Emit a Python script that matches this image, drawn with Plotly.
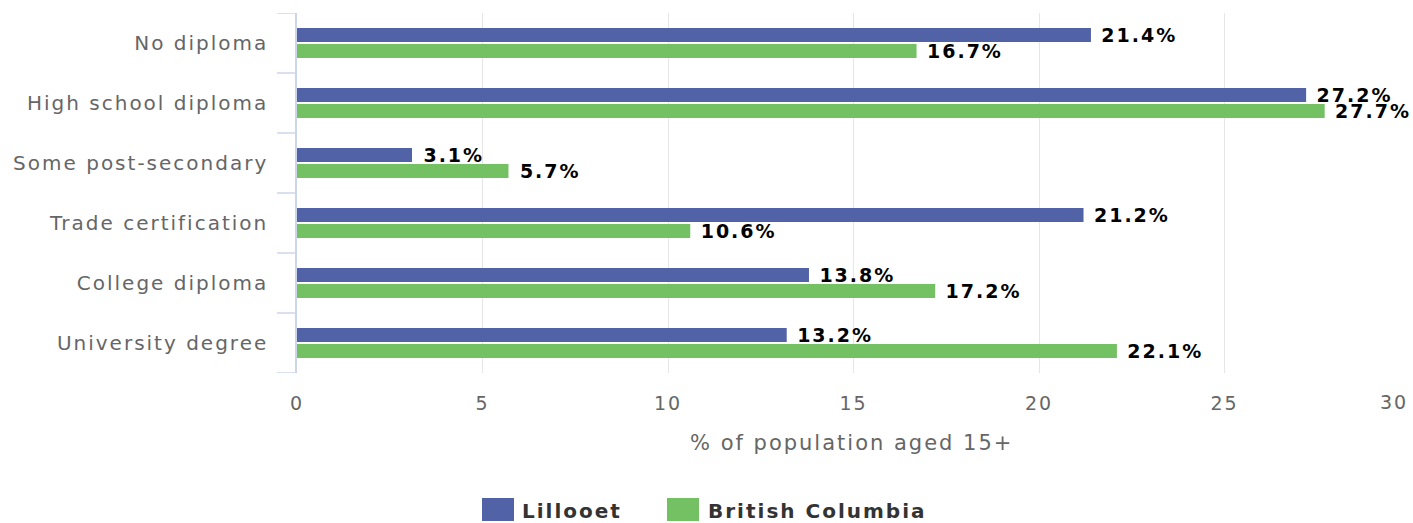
import plotly.graph_objects as go

categories = ["No diploma", "High school diploma", "Some post-secondary",
              "Trade certification", "College diploma", "University degree"]
lillooet = [21.4, 27.2, 3.1, 21.2, 13.8, 13.2]
bc = [16.7, 27.7, 5.7, 10.6, 17.2, 22.1]
series_names = ["Lillooet", "British Columbia"]
x_ticks = [0, 5, 10, 15, 20, 25, 30]
x_title = "% of population aged 15+"

colors = ["#5262a6", "#73c163"]
FONT = "DejaVu Sans"

W, H = 1413, 523
L, R, T, B = 297, 3, 13, 150
PW, PH = W - L - R, H - T - B

def px(x):
    return (x - L) / PW

def py(y):
    return (H - B - y) / PH

fig = go.Figure()
for name, vals, col in zip(series_names, [lillooet, bc], colors):
    fig.add_trace(go.Bar(
        y=categories, x=vals, name=name, orientation="h",
        marker=dict(color=col, line=dict(width=0)),
        text=vals, texttemplate="\u00a0\u2009%{x:.1f}%", textposition="outside",
        textfont=dict(family=FONT, size=19, color="#000000", weight="bold"),
        constraintext="none", cliponaxis=False, showlegend=False,
    ))

shapes = []
# category boundary ticks on the y axis
for i in range(len(categories) + 1):
    shapes.append(dict(type="line", xref="paper", yref="y",
                       x0=px(277), x1=0, y0=i - 0.5, y1=i - 0.5,
                       line=dict(color="#ccd6eb", width=1.5)))

# manual legend
legend_items = [(482, 528), (667, 722)]
annotations = []
for (sx, tx), name, col in zip(legend_items, series_names, colors):
    shapes.append(dict(type="rect", xref="paper", yref="paper",
                       x0=px(sx), x1=px(sx + 32), y0=py(498), y1=py(521),
                       fillcolor=col, line=dict(width=0)))
    annotations.append(dict(text=name, xref="paper", yref="paper",
                            x=px(tx), y=py(511), xanchor="left", yanchor="middle",
                            showarrow=False,
                            font=dict(family=FONT, size=20, color="#333333", weight="bold")))

annotations.append(dict(text=x_title, xref="paper", yref="paper",
                        x=px(851), y=py(443), xanchor="center", yanchor="middle",
                        showarrow=False,
                        font=dict(family=FONT, size=21, color="#666666")))

# last x tick label is kept inside the chart (right-aligned at the plot edge)
tick_text = [str(t) for t in x_ticks[:-1]] + [""]
annotations.append(dict(text=str(x_ticks[-1]), xref="paper", yref="paper",
                        x=px(1408), y=py(402), xanchor="right", yanchor="middle",
                        showarrow=False,
                        font=dict(family=FONT, size=19, color="#666666")))

fig.update_layout(
    width=W, height=H,
    margin=dict(l=L, r=R, t=T, b=B, pad=0, autoexpand=False),
    paper_bgcolor="white", plot_bgcolor="white",
    barmode="group", bargap=0.467, bargroupgap=0.125,
    font=dict(family=FONT, color="#666666"),
    shapes=shapes, annotations=annotations,
    showlegend=False,
)
fig.update_xaxes(
    range=[0, 30], tickvals=x_ticks, ticktext=tick_text,
    showgrid=True, gridcolor="#e6e6e6", gridwidth=1,
    zeroline=False, showline=False, ticks="", automargin=False,
    tickfont=dict(family=FONT, size=19, color="#666666"),
    ticklabelstandoff=17, ticklabeloverflow="allow",
)
fig.update_yaxes(
    categoryorder="array", categoryarray=categories,
    range=[len(categories) - 0.5, -0.5],
    showgrid=False, zeroline=False, automargin=False,
    showline=True, linecolor="#ccd6eb", linewidth=1.5,
    ticks="", tickfont=dict(family=FONT, size=20, color="#666666"),
    ticklabelstandoff=23,
)

post = ("var s=document.createElement('style');"
        "s.textContent='html,body{margin:0;padding:0;overflow:hidden}.main-svg text{letter-spacing:2px}';"
        "document.head.appendChild(s);")
fig.write_html("out.html", post_script=post, config={"displayModeBar": False})
